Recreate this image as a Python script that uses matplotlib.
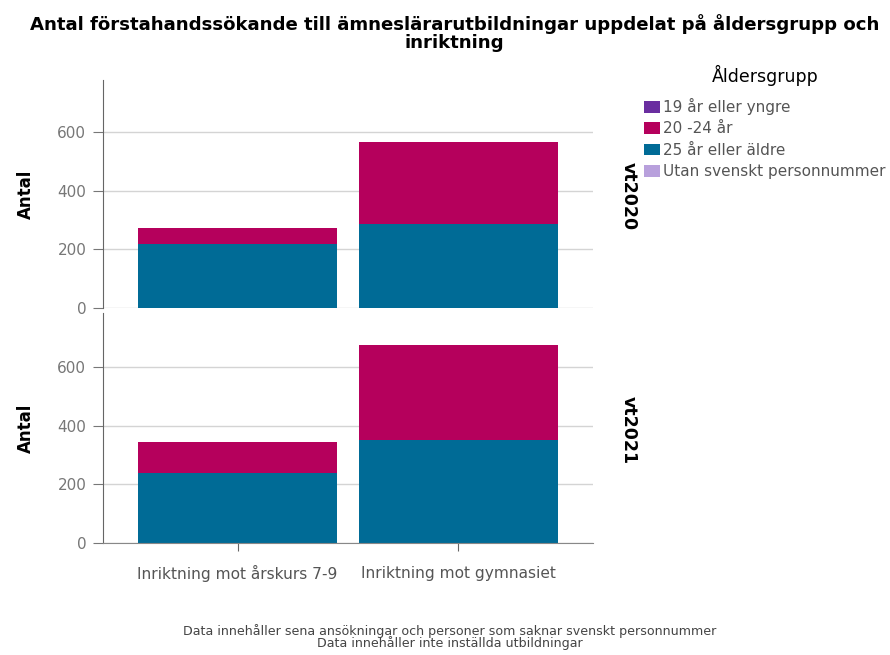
import matplotlib
matplotlib.use("Agg")
import matplotlib.pyplot as plt
from matplotlib.patches import Patch

plt.rcParams['font.family'] = ['DejaVu Sans']

categories = ["Inriktning mot årskurs 7-9", "Inriktning mot gymnasiet"]
terms = ["vt2020", "vt2021"]
groups = ["19 år eller yngre", "20 -24 år", "25 år eller äldre", "Utan svenskt personnummer"]
colors = ["#6a2ea0", "#b5005c", "#006b96", "#b8a0dc"]

# counts per term, per age group, per category
age_25_plus = {"vt2020": [218, 286], "vt2021": [238, 351]}
age_20_24 = {"vt2020": [54, 280], "vt2021": [106, 324]}
age_19_under = {"vt2020": [0, 0], "vt2021": [0, 0]}
no_personnummer = {"vt2020": [0, 0], "vt2021": [0, 0]}

yticks = [0, 200, 400, 600]

fig = plt.figure(figsize=(8.9, 6.55), dpi=100)
W, H = 890, 655
left, right = 103, 593
panels = [(80, 308), (313, 543)]
axes = []
for (top, bottom) in panels:
    ax = fig.add_axes([left / W, 1 - bottom / H, (right - left) / W, (bottom - top) / H])
    axes.append(ax)

x = [0, 1]
for ax, term, (top, bottom) in zip(axes, terms, panels):
    stack = [age_25_plus[term], age_20_24[term], age_19_under[term], no_personnummer[term]]
    stack_colors = [colors[2], colors[1], colors[0], colors[3]]
    base = [0, 0]
    for vals, c in zip(stack, stack_colors):
        ax.bar(x, vals, width=0.9, bottom=base, color=c, zorder=2, linewidth=0)
        base = [b + v for b, v in zip(base, vals)]
    ax.set_xlim(-0.61, 1.61)
    ax.set_ylim(0, (bottom - top) / 0.2935)
    ax.set_yticks(yticks)
    ax.yaxis.grid(True, color="#d4d4d4", linewidth=1.0, zorder=0)
    ax.set_axisbelow(True)
    for s in ["top", "right"]:
        ax.spines[s].set_visible(False)
    ax.spines["left"].set_color("#666666")
    ax.spines["bottom"].set_color("#888888")
    ax.tick_params(axis="y", colors="#777777", labelcolor="#777777", labelsize=11, length=7, pad=5)
    ax.set_ylabel("Antal", fontsize=12, fontweight="bold", labelpad=16)
    ax.text(1.072, 0.49, term, transform=ax.transAxes, rotation=-90, ha="center", va="center",
            fontsize=12.5, fontweight="bold")

axes[0].spines["bottom"].set_visible(False)
axes[0].set_xticks([])
axes[1].set_xticks(x)
axes[1].set_xticklabels(categories, fontsize=11.1)
axes[1].tick_params(axis="x", colors="#666666", labelcolor="#555555", length=6, pad=16)
for lbl in axes[1].get_xticklabels():
    lbl.set_verticalalignment("center")

fig.text(0.511, 1 - 33 / H, "Antal förstahandssökande till ämneslärarutbildningar uppdelat på åldersgrupp och\ninriktning",
         ha="center", va="center", fontsize=13.1, fontweight="bold", linespacing=0.96)

# legend title drawn separately so it can sit centred above the entries
fig.text(765 / W, 1 - 75 / H, "Åldersgrupp", ha="center", va="center", fontsize=12.5)
handles = [Patch(facecolor=c, edgecolor="none") for c in colors]
leg = fig.legend(handles, groups, loc="upper left", bbox_to_anchor=(644 / W, 1 - 98 / H),
                 frameon=False, fontsize=11,
                 handlelength=1.05, handleheight=0.8, handletextpad=0.2, labelspacing=0.42,
                 borderaxespad=0, borderpad=0, labelcolor="#555555")

fig.text(0.505, 1 - 637 / H, "Data innehåller sena ansökningar och personer som saknar svenskt personnummer\nData innehåller inte inställda utbildningar",
         ha="center", va="center", fontsize=9.1, color="#444444", linespacing=0.82)

fig.savefig("out.png", dpi=100)
